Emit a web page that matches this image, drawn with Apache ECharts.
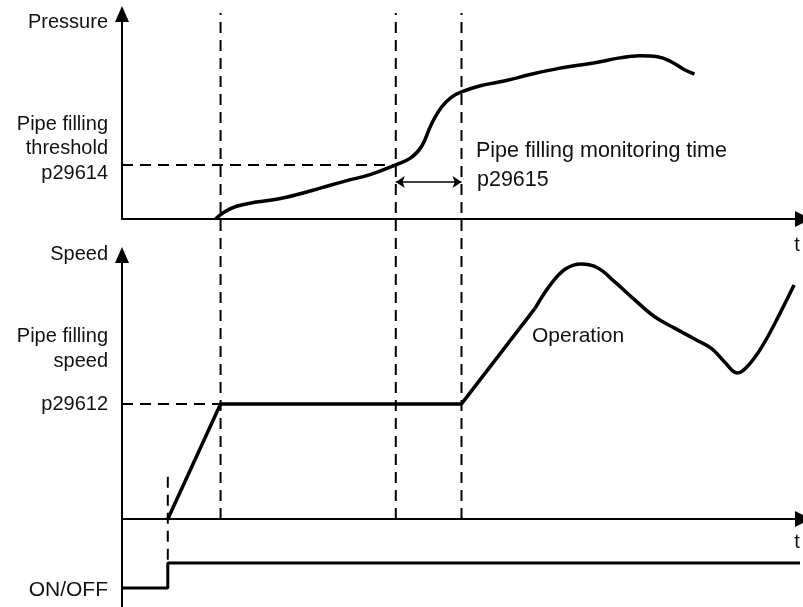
<!DOCTYPE html>
<html>
<head>
<meta charset="utf-8">
<style>
  html, body { margin: 0; padding: 0; background: #fff; }
  #chart { width: 803px; height: 607px; }
</style>
<script src="https://cdn.jsdelivr.net/npm/echarts@6/dist/echarts.min.js"></script>
</head>
<body>
<div id="chart"></div>
<script>
// time axis in arbitrary units
let tOn = 9.2;
let tReach = 19.8;
let tThresh = 55;
let tMonEnd = 68.2;
let tMax = 136.8;

let pressureThreshold = 26.4;
let fillingSpeed = 43.6;
let monitorArrowLevel = 18;

let pressureTime = [18.8, 20.4, 23.0, 27.0, 31.0, 35.0, 40.0, 45.0, 50.0, 55.0, 58.0, 60.2, 62.2, 64.2, 66.2, 68.2, 72.0, 77.0, 82.0, 88.0, 95.0, 100.0, 104.0, 107.6, 110.4, 113.0, 115.0];
let pressureValue = [0, 3.2, 6.2, 8.3, 9.6, 11.8, 15.2, 18.6, 21.8, 26.4, 29.8, 35.5, 46.5, 54.6, 59.5, 62.0, 65.0, 67.4, 70.5, 73.6, 76.2, 78.6, 79.6, 79.1, 76.6, 72.8, 70.7];

// ramp to filling speed, hold, then straight start of operation
let rampTime = [tOn, tReach, tMonEnd, 83.0];
let rampSpeed = [0, fillingSpeed, fillingSpeed, 79.9];

let operationTime = [83.0, 86.0, 89.0, 92.2, 95.6, 99.0, 103.0, 107.0, 111.0, 115.0, 118.4, 121.0, 123.6, 126.0, 129.0, 132.2, 135.0];
let operationSpeed = [79.9, 88.6, 94.6, 96.6, 95.1, 89.8, 83.0, 76.6, 72.3, 68.2, 64.6, 59.6, 55.3, 58.6, 66.7, 78.0, 88.6];

let onOffTime = [0, tOn, tOn, 136.2];
let onOffState = [0, 0, 1, 1];

let guideTimes = [tReach, tThresh, tMonEnd];

function zip(xs, ys) {
    return xs.map((x, i) => [x, ys[i]]);
}

let black = '#000';
let dash = [11, 7];
let font = '"Liberation Sans", Arial, sans-serif';

function xAxisFor(index, visible) {
    return {
        type: 'value', gridIndex: index, min: 0, max: tMax,
        axisLine: {
            show: visible, onZero: false,
            symbol: ['none', 'triangle'], symbolSize: [16, 16],
            lineStyle: { color: black, width: 2 }
        },
        axisTick: { show: false }, axisLabel: { show: false }, splitLine: { show: false }
    };
}

function yAxisFor(index, min, max, visible, arrow) {
    return {
        type: 'value', gridIndex: index, min: min, max: max,
        axisLine: {
            show: visible, onZero: false,
            symbol: arrow ? ['none', 'triangle'] : 'none', symbolSize: [14, 16],
            lineStyle: { color: black, width: 2 }
        },
        axisTick: { show: false }, axisLabel: { show: false }, splitLine: { show: false }
    };
}

function dashedLine(grid, data) {
    return {
        type: 'line', xAxisIndex: grid, yAxisIndex: grid, data: data,
        symbol: 'none', silent: true, clip: false,
        lineStyle: { color: black, width: 2, type: dash }
    };
}

let labels = [
    ['Pressure', 108, 22, 'right', 20],
    ['Pipe filling', 108, 124, 'right', 20],
    ['threshold', 108, 148, 'right', 20],
    ['p29614', 108, 173, 'right', 20],
    ['Speed', 108, 254, 'right', 20],
    ['Pipe filling', 108, 336, 'right', 20],
    ['speed', 108, 361, 'right', 20],
    ['p29612', 108, 404, 'right', 20],
    ['ON/OFF', 108, 590, 'right', 21],
    ['Pipe filling monitoring time', 476, 151, 'left', 21.5],
    ['p29615', 477, 180, 'left', 21.5],
    ['Operation', 532, 336, 'left', 21],
    ['t', 797, 245, 'center', 20],
    ['t', 797, 542, 'center', 20]
];

let guideSeries = guideTimes.map(t => dashedLine(3, [[t, 0], [t, 1]]));

let option = {
    animation: false,
    backgroundColor: '#fff',
    grid: [
        { left: 122, right: -3, top: 14, bottom: 388 },
        { left: 122, right: -3, top: 255, bottom: 88 },
        { left: 122, right: -3, top: 519, bottom: 0 },
        { left: 122, right: -3, top: 13, bottom: 88 }
    ],
    xAxis: [xAxisFor(0, true), xAxisFor(1, true), xAxisFor(2, false), xAxisFor(3, false)],
    yAxis: [
        yAxisFor(0, 0, 100, true, true),
        yAxisFor(1, 0, 100, true, true),
        yAxisFor(2, -0.76, 2.76, true, false),
        yAxisFor(3, 0, 1, false, false)
    ],
    graphic: labels.map(l => ({
        type: 'text', silent: true,
        style: {
            text: l[0], x: l[1], y: l[2], textAlign: l[3], textVerticalAlign: 'middle',
            font: l[4] + 'px ' + font, fill: '#111'
        }
    })),
    series: [
        ...guideSeries,
        dashedLine(1, [[tOn, 16], [tOn, -15.5]]),
        dashedLine(0, [[0, pressureThreshold], [tThresh, pressureThreshold]]),
        dashedLine(1, [[0, fillingSpeed], [tReach, fillingSpeed]]),
        {
            type: 'line', xAxisIndex: 0, yAxisIndex: 0, data: zip(pressureTime, pressureValue),
            smooth: 0.4, symbol: 'none', lineStyle: { color: black, width: 3.5 },
            markLine: {
                silent: true, symbol: ['arrow', 'arrow'], symbolSize: [9, 9],
                label: { show: false },
                lineStyle: { color: black, width: 1.5, type: 'solid' },
                data: [[{ coord: [tThresh, monitorArrowLevel] }, { coord: [tMonEnd, monitorArrowLevel] }]]
            }
        },
        {
            type: 'line', xAxisIndex: 1, yAxisIndex: 1, data: zip(rampTime, rampSpeed),
            symbol: 'none', lineStyle: { color: black, width: 3.5, join: 'round' }
        },
        {
            type: 'line', xAxisIndex: 1, yAxisIndex: 1, data: zip(operationTime, operationSpeed),
            smooth: 0.4, symbol: 'none', lineStyle: { color: black, width: 3.5 }
        },
        {
            type: 'line', xAxisIndex: 2, yAxisIndex: 2, data: zip(onOffTime, onOffState),
            symbol: 'none', clip: false, lineStyle: { color: black, width: 3 }
        }
    ]
};

let chart = echarts.init(document.getElementById('chart'));
chart.setOption(option);
</script>
</body>
</html>
